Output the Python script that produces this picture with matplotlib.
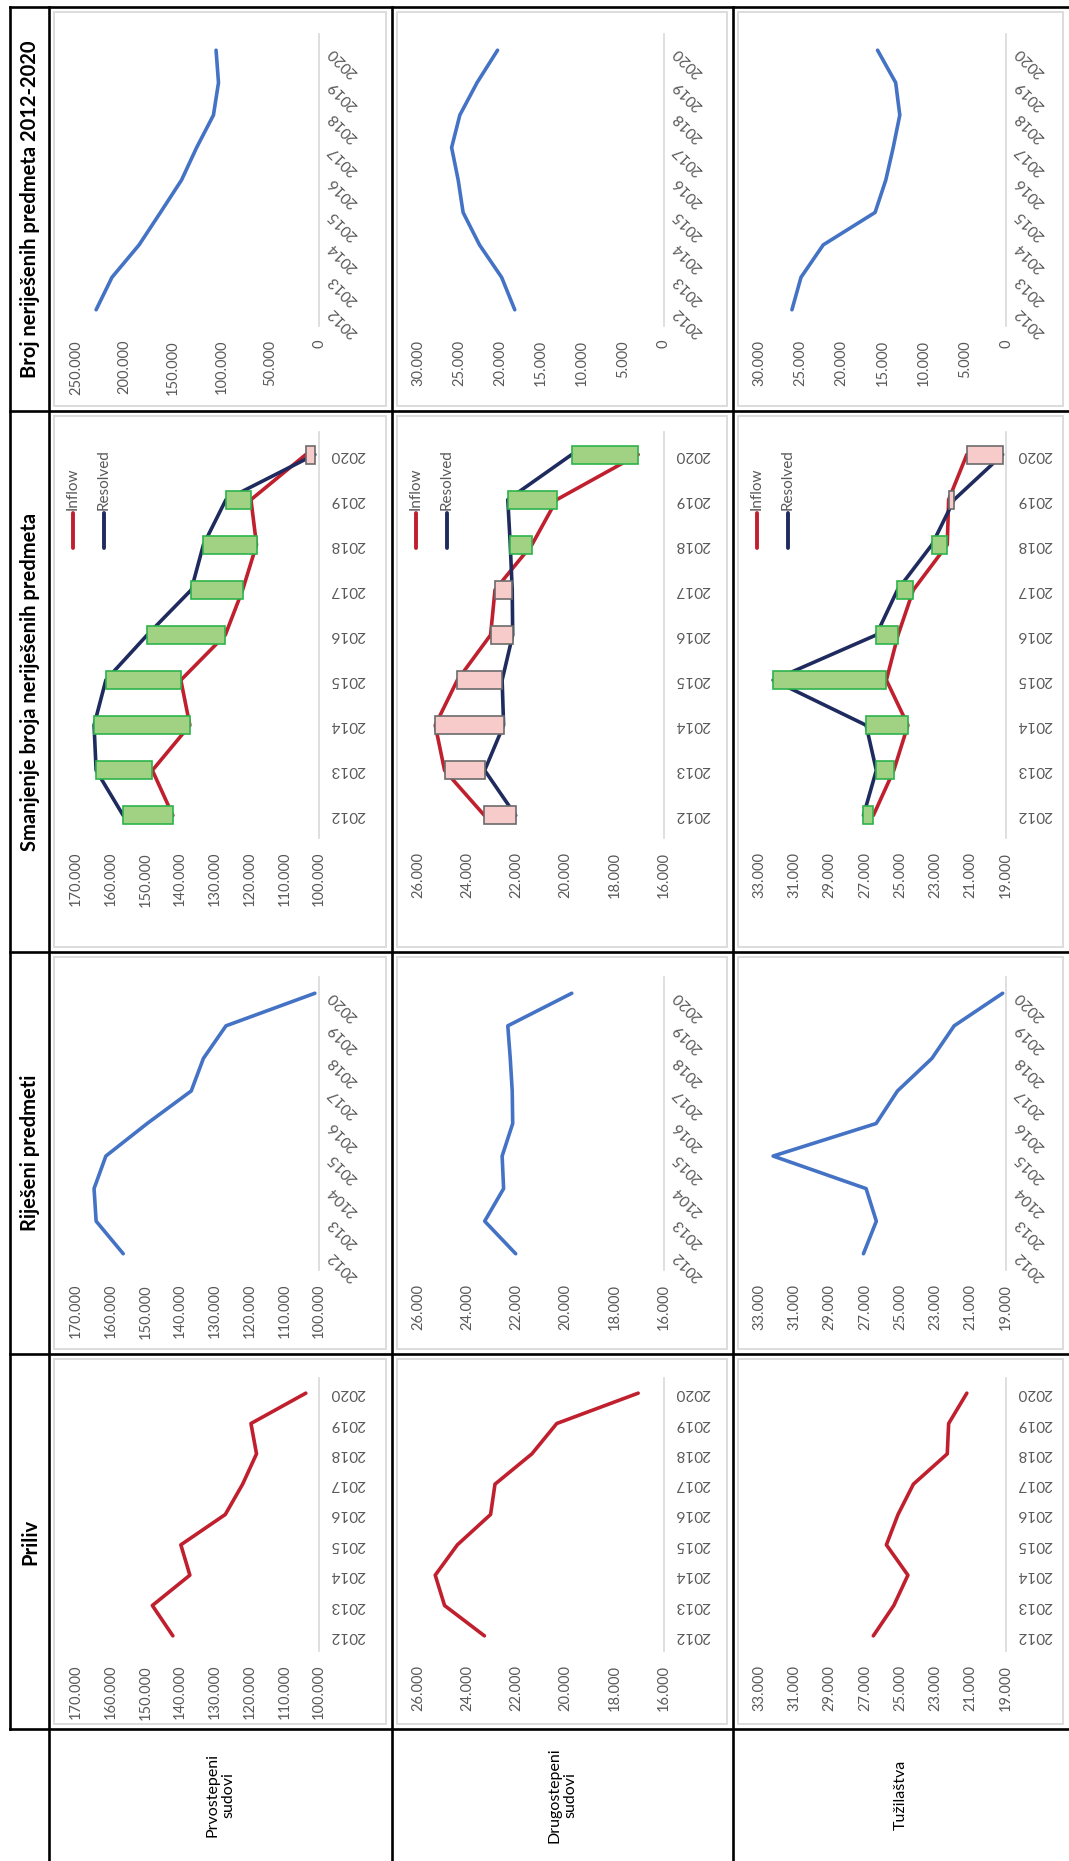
import numpy as np
import matplotlib
matplotlib.use('Agg')
import matplotlib.pyplot as plt
from matplotlib.lines import Line2D
from matplotlib.patches import Rectangle

plt.rcParams['font.family'] = ['Lato', 'DejaVu Sans']

W, H = 1069, 1861

years = ['2012', '2013', '2014', '2015', '2016', '2017', '2018', '2019', '2020']
# the resolved-cases charts carry a typo in the source ("2104")
years_resolved = ['2012', '2013', '2104', '2015', '2016', '2017', '2018', '2019', '2020']

column_titles = {'priliv': 'Priliv',
                 'rijeseni': 'Riješeni predmeti',
                 'smanjenje': 'Smanjenje broja neriješenih predmeta',
                 'broj': 'Broj neriješenih predmeta 2012-2020'}
row_titles = {'prvo': 'Prvostepeni\nsudovi',
              'drugo': 'Drugostepeni\nsudovi',
              'tuz': 'Tužilaštva'}

# Prvostepeni sudovi
prvo_inflow = [142100, 148000, 137200, 139800, 127000, 122000, 118000, 119600, 103800]
prvo_resolved = [156400, 164200, 164800, 161400, 149500, 136800, 133300, 126800, 101200]
prvo_backlog = [229300, 213000, 185100, 163100, 141400, 125900, 108600, 103400, 105900]

# Drugostepeni sudovi
drugo_inflow = [23300, 24920, 25300, 24400, 23050, 22870, 21370, 20360, 17050]
drugo_resolved = [22030, 23290, 22520, 22580, 22150, 22170, 22250, 22350, 19750]
drugo_backlog = [18200, 19800, 22500, 24500, 25100, 25900, 24900, 22800, 20300]

# Tuzilastva
tuz_inflow = [26520, 25360, 24560, 25780, 25120, 24250, 22330, 22250, 21220]
tuz_resolved = [27080, 26350, 26930, 32200, 26360, 25150, 23200, 21940, 19190]
tuz_backlog = [26000, 24900, 22200, 15900, 14600, 13700, 12900, 13400, 15600]

# value axis (min, max, step) per court
scale_flow = {'prvo': (100000, 170000, 10000),
              'drugo': (16000, 26000, 2000),
              'tuz': (19000, 33000, 2000)}
scale_backlog = {'prvo': (0, 250000, 50000),
                 'drugo': (0, 30000, 5000),
                 'tuz': (0, 30000, 5000)}

inflow_color = '#C01F2E'
resolved_color = '#1F2B5E'
line_color = '#4472C4'
up_fill, up_edge = '#A1D283', '#2DB34C'
down_fill, down_edge = '#F8CBCB', '#6B6B6B'
grey_text = '#595959'

# page is rotated 90 degrees counter-clockwise: columns of the table run bottom->top
col_x = {'prvo': (76, 319), 'drugo': (418, 664), 'tuz': (759, 1006)}
cell_x = {'prvo': (49, 392), 'drugo': (392, 733), 'tuz': (733, 1069)}
band_y = {'broj': (34, 326), 'smanjenje': (432, 838), 'rijeseni': (977, 1270), 'priliv': (1378, 1651)}
cell_y = {'broj': (7, 411), 'smanjenje': (411, 952), 'rijeseni': (952, 1354), 'priliv': (1354, 1729)}


def pxBox(x0, y0, x1, y1):
    return [x0 / W, 1 - y1 / H, (x1 - x0) / W, (y1 - y0) / H]


def fmt(v):
    return '{:,}'.format(int(v)).replace(',', '.')


def makeAxes(fig, court, chart, scale, year_labels, year_rot):
    x0, x1 = col_x[court]
    y0, y1 = band_y[chart]
    ax = fig.add_axes(pxBox(x0, y0, x1, y1))
    vmin, vmax, step = scale
    ax.set_xlim(vmax, vmin)
    ax.set_ylim(-0.5, len(year_labels) - 0.5)
    ticks = np.arange(vmin, vmax + step, step)
    ax.set_xticks(ticks)
    ax.set_xticklabels([fmt(t) for t in ticks], rotation=90, fontsize=10.5, color=grey_text)
    ax.tick_params(axis='x', length=0, pad=10)
    ax.yaxis.tick_right()
    ax.set_yticks(range(len(year_labels)))
    ax.set_yticklabels(year_labels, fontsize=11, color=grey_text)
    ax.tick_params(axis='y', length=0, pad=8)
    for lab in ax.get_yticklabels():
        lab.set_rotation(year_rot)
        lab.set_ha('right')
        lab.set_va('center')
        lab.set_rotation_mode('anchor')
    for side in ['left', 'top', 'bottom']:
        ax.spines[side].set_visible(False)
    ax.spines['right'].set_color('#D9D9D9')
    ax.spines['right'].set_linewidth(1.2)
    ax.patch.set_alpha(0)
    return ax


def frame(fig, court, chart):
    cx0, cx1 = cell_x[court]
    cy0, cy1 = cell_y[chart]
    x0, x1 = cx0 + 5, cx1 - 6
    y0, y1 = cy0 + 5, cy1 - 5
    fig.add_artist(Rectangle((x0 / W, 1 - y1 / H), (x1 - x0) / W, (y1 - y0) / H,
                             transform=fig.transFigure, fill=False,
                             edgecolor='#D9D9D9', linewidth=1.3, zorder=0))


def legend(fig, court):
    cx0 = cell_x[court][0]
    for i, (name, color) in enumerate([('Inflow', inflow_color), ('Resolved', resolved_color)]):
        x = cx0 + 24 + i * 31
        fig.add_artist(Line2D([x / W, x / W], [1 - 548 / H, 1 - 513 / H], transform=fig.transFigure,
                              color=color, linewidth=2.8, solid_capstyle='round'))
        fig.text(x / W, 1 - 510 / H, name, rotation=90, ha='center', va='bottom',
                 fontsize=11, color=grey_text)


def flowPlot(fig, court, values):
    frame(fig, court, 'priliv')
    ax = makeAxes(fig, court, 'priliv', scale_flow[court], years, 180)
    ax.plot(values, range(len(values)), color=inflow_color, linewidth=2.6, solid_capstyle='round')


def resolvedPlot(fig, court, values):
    frame(fig, court, 'rijeseni')
    ax = makeAxes(fig, court, 'rijeseni', scale_flow[court], years_resolved, 135)
    ax.plot(values, range(len(values)), color=line_color, linewidth=2.6, solid_capstyle='round')


def reductionPlot(fig, court, inflow, resolved):
    frame(fig, court, 'smanjenje')
    ax = makeAxes(fig, court, 'smanjenje', scale_flow[court], years, 180)
    pos = np.arange(len(inflow))
    ax.plot(inflow, pos, color=inflow_color, linewidth=2.6, solid_capstyle='round', zorder=2)
    ax.plot(resolved, pos, color=resolved_color, linewidth=2.6, solid_capstyle='round', zorder=2)
    diff = np.array(resolved) - np.array(inflow)
    fills = [up_fill if d > 0 else down_fill for d in diff]
    edges = [up_edge if d > 0 else down_edge for d in diff]
    ax.barh(pos, diff, left=inflow, height=0.4, color=fills, edgecolor=edges, linewidth=1.2, zorder=3)
    legend(fig, court)


def backlogPlot(fig, court, values):
    frame(fig, court, 'broj')
    ax = makeAxes(fig, court, 'broj', scale_backlog[court], years, 135)
    ax.plot(values, range(len(values)), color=line_color, linewidth=2.6, solid_capstyle='round')


def tableLines(fig):
    lw = 1.9
    segs = [((10, 7), (10, 1729)), ((49, 7), (49, 1861)), ((392, 7), (392, 1861)),
            ((733, 7), (733, 1861))]
    for y in [7, 411, 952, 1354, 1729]:
        segs.append(((10, y), (1069, y)))
    for (xa, ya), (xb, yb) in segs:
        fig.add_artist(Line2D([xa / W, xb / W], [1 - ya / H, 1 - yb / H], transform=fig.transFigure,
                              color='black', linewidth=lw, solid_capstyle='projecting'))


def main():
    fig = plt.figure(figsize=(W / 100, H / 100), dpi=100)
    fig.patch.set_facecolor('white')

    tableLines(fig)

    for chart, title in column_titles.items():
        y0, y1 = cell_y[chart]
        fig.text(30 / W, 1 - (y0 + y1) / 2 / H, title, rotation=90, ha='center', va='center',
                 fontsize=14.5, fontweight='bold', color='black')

    for court, label in row_titles.items():
        x0, x1 = cell_x[court]
        fig.text((x0 + x1) / 2 / W, 1 - 1795 / H, label, rotation=90, ha='center', va='center',
                 fontsize=11.5, color='black', multialignment='center')

    flowPlot(fig, 'prvo', prvo_inflow)
    flowPlot(fig, 'drugo', drugo_inflow)
    flowPlot(fig, 'tuz', tuz_inflow)

    resolvedPlot(fig, 'prvo', prvo_resolved)
    resolvedPlot(fig, 'drugo', drugo_resolved)
    resolvedPlot(fig, 'tuz', tuz_resolved)

    reductionPlot(fig, 'prvo', prvo_inflow, prvo_resolved)
    reductionPlot(fig, 'drugo', drugo_inflow, drugo_resolved)
    reductionPlot(fig, 'tuz', tuz_inflow, tuz_resolved)

    backlogPlot(fig, 'prvo', prvo_backlog)
    backlogPlot(fig, 'drugo', drugo_backlog)
    backlogPlot(fig, 'tuz', tuz_backlog)

    fig.savefig('out.png', dpi=100)
    plt.close('all')


if __name__ == '__main__':
    main()
